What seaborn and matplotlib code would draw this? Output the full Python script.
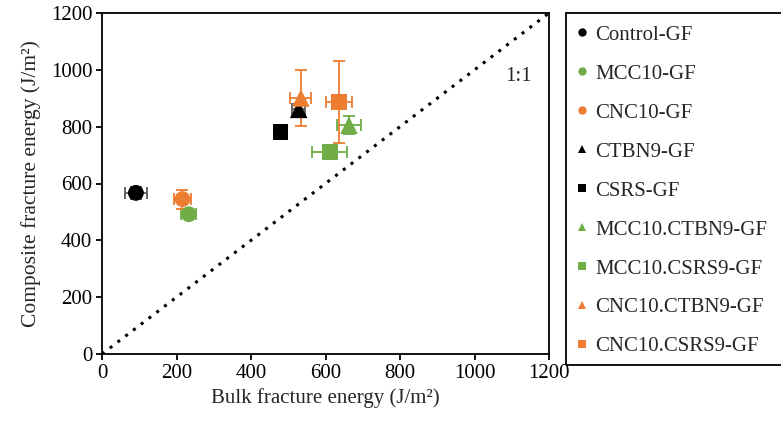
import pandas as pd
import matplotlib
matplotlib.use('Agg')
import matplotlib.pyplot as plt
from matplotlib.patches import Rectangle
import seaborn as sns

# data
samples = ['Control-GF', 'MCC10-GF', 'CNC10-GF', 'CTBN9-GF', 'CSRS-GF',
           'MCC10.CTBN9-GF', 'MCC10.CSRS9-GF', 'CNC10.CTBN9-GF', 'CNC10.CSRS9-GF']
bulk = [91, 233, 216, 528, 479, 663, 611, 534, 636]
bulk_err = [29, 20, 24, 17, 0, 31, 48, 28, 35]
composite = [567, 492, 545, 861, 780, 805, 710, 901, 887]
composite_err = [20, 15, 33, 20, 0, 31, 15, 100, 143]

BLACK = '#000000'
GREEN = '#70AD47'
ORANGE = '#ED7D31'
colors = [BLACK, GREEN, ORANGE, BLACK, BLACK, GREEN, GREEN, ORANGE, ORANGE]
err_colors = ['#595959', GREEN, ORANGE, '#595959', '#595959', GREEN, GREEN, ORANGE, ORANGE]
markers = ['o', 'o', 'o', '^', 's', '^', 's', '^', 's']
msizes = {'o': 130, 's': 130, '^': 160}

df = pd.DataFrame({'sample': samples, 'bulk': bulk, 'composite': composite})

sns.set_theme(style='white')
plt.rcParams['font.family'] = ['Liberation Serif', 'DejaVu Serif']

fig = plt.figure(figsize=(7.81, 4.25), dpi=100)
ax = fig.add_axes([102 / 781, 1 - 354 / 425, (549 - 102) / 781, (354 - 13) / 425])

# 1:1 line
ax.plot([0, 1200], [0, 1200], linestyle=(0, (1, 2.2)), color='black', lw=2.2, zorder=1)
ax.text(1119, 975, '1:1', fontsize=15, ha='center', va='center')

# error bars sit behind the markers
for i in range(len(samples)):
    if bulk_err[i] == 0 and composite_err[i] == 0:
        continue
    ax.errorbar(bulk[i], composite[i], xerr=bulk_err[i], yerr=composite_err[i],
                fmt='none', ecolor=err_colors[i], elinewidth=1.3, capsize=4,
                capthick=1.3, zorder=2)

sns.scatterplot(data=df, x='bulk', y='composite', hue='sample', style='sample', size='sample',
                palette=dict(zip(samples, colors)), markers=dict(zip(samples, markers)),
                sizes={s: msizes[m] for s, m in zip(samples, markers)},
                linewidth=0, ax=ax, zorder=3, legend=True)

ax.set_xlim(0, 1200)
ax.set_ylim(0, 1200)
ax.set_xticks(range(0, 1201, 200))
ax.set_yticks(range(0, 1201, 200))
ax.tick_params(axis='both', labelsize=15, direction='out', length=4, width=1.3,
               colors='black', bottom=True, left=True, pad=3)
for sp in ax.spines.values():
    sp.set_color('black')
    sp.set_linewidth(1.3)
ax.set_xlabel('Bulk fracture energy (J/m²)', fontsize=15, labelpad=4)
ax.set_ylabel('Composite fracture energy (J/m²)', fontsize=15.5, labelpad=7)
ax.grid(False)

handles, labels = ax.get_legend_handles_labels()
for h in handles:
    h.set_markersize(6)
leg = ax.legend(handles, labels, loc='upper left', bbox_to_anchor=(572 / 781, 1 - 21 / 425),
                bbox_transform=fig.transFigure, frameon=False, fontsize=15,
                handlelength=0.6, handletextpad=0.3,
                labelspacing=0.93, borderpad=0.2, borderaxespad=0)

# legend box runs past the right edge of the image
fig.patches.append(Rectangle((566 / 781, 1 - 365 / 425), 0.4, (365 - 13) / 425,
                             transform=fig.transFigure, fill=False, edgecolor='black',
                             linewidth=1.3, clip_on=False))

fig.savefig('out.png', dpi=100)
